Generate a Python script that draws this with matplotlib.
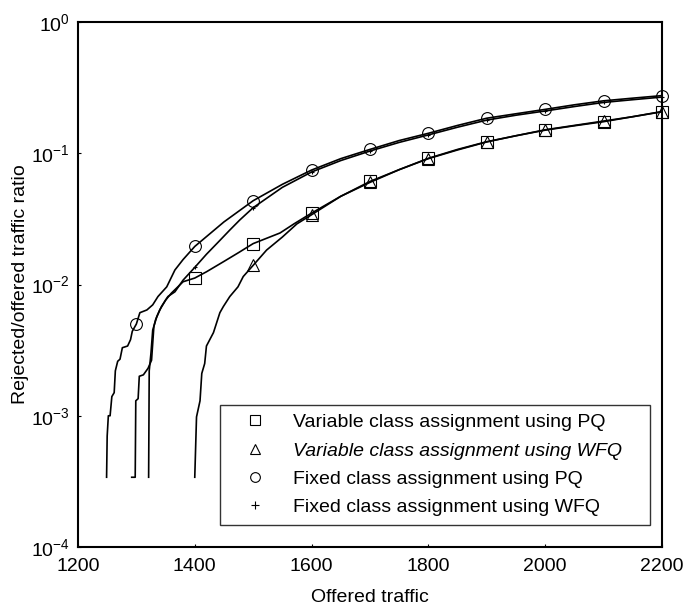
import numpy as np
import matplotlib
matplotlib.use('Agg')
import matplotlib.pyplot as plt
from matplotlib.lines import Line2D
from matplotlib.ticker import LogLocator, NullLocator

plt.rcParams['font.family'] = ['Liberation Sans', 'DejaVu Sans']
plt.rcParams['mathtext.fontset'] = 'custom'
plt.rcParams['mathtext.rm'] = 'Liberation Sans'
plt.rcParams['mathtext.default'] = 'regular'

# Fixed class assignment using PQ (circles)
fix_pq_x = [1249, 1250, 1252, 1255, 1258, 1262, 1264, 1268, 1272, 1276, 1285, 1290, 1293, 1300,
            1306, 1318, 1328, 1337, 1352, 1366, 1380, 1400, 1450, 1500, 1550, 1600, 1650, 1700,
            1750, 1800, 1850, 1900, 1950, 2000, 2050, 2100, 2150, 2200]
fix_pq_y = [3.4e-4, 7.0e-4, 1.0e-3, 1.0e-3, 1.4e-3, 1.5e-3, 2.2e-3, 2.6e-3, 2.7e-3, 3.3e-3, 3.4e-3,
            3.8e-3, 4.4e-3, 5.0e-3, 6.1e-3, 6.4e-3, 7.0e-3, 8.1e-3, 9.6e-3, 0.0129, 0.0155, 0.0195,
            0.030, 0.0435, 0.058, 0.0745, 0.091, 0.107, 0.125, 0.142, 0.163, 0.185, 0.200, 0.216,
            0.234, 0.251, 0.263, 0.275]

# Variable class assignment using PQ (squares)
var_pq_x = [1292, 1298, 1299, 1303, 1305, 1312, 1320, 1326, 1330, 1333, 1340, 1350, 1360, 1380,
            1400, 1420, 1450, 1475, 1500, 1546, 1570, 1600, 1650, 1700, 1750, 1800, 1850, 1900,
            1950, 2000, 2050, 2100, 2150, 2200]
var_pq_y = [3.4e-4, 3.4e-4, 1.3e-3, 1.35e-3, 2.0e-3, 2.05e-3, 2.3e-3, 2.65e-3, 4.8e-3, 5.4e-3,
            6.4e-3, 7.6e-3, 8.6e-3, 0.0105, 0.0112, 0.0125, 0.015, 0.0175, 0.0205, 0.0247, 0.029,
            0.035, 0.047, 0.061, 0.075, 0.0915, 0.107, 0.1225, 0.136, 0.150, 0.162, 0.174, 0.19,
            0.207]

# Fixed class assignment using WFQ (plus)
fix_wfq_x = [1321, 1322, 1325, 1328, 1335, 1343, 1354, 1366, 1380, 1400, 1420, 1440, 1460, 1477,
             1500, 1550, 1600, 1650, 1700, 1750, 1800, 1850, 1900, 1950, 2000, 2050, 2100, 2150,
             2200]
fix_wfq_y = [3.4e-4, 2.2e-3, 3.0e-3, 4.5e-3, 5.7e-3, 6.8e-3, 8.1e-3, 8.8e-3, 0.0108, 0.0135,
             0.017, 0.021, 0.026, 0.031, 0.0385, 0.055, 0.072, 0.088, 0.104, 0.121, 0.138, 0.158,
             0.179, 0.195, 0.210, 0.227, 0.244, 0.256, 0.268]

# Variable class assignment using WFQ (triangles)
var_wfq_x = [1400, 1403, 1409, 1412, 1417, 1420, 1432, 1443, 1449, 1460, 1474, 1483, 1500, 1523,
             1550, 1575, 1600, 1650, 1700, 1750, 1800, 1850, 1900, 1950, 2000, 2050, 2100, 2150,
             2200]
var_wfq_y = [3.4e-4, 9.8e-4, 1.3e-3, 2.1e-3, 2.5e-3, 3.4e-3, 4.3e-3, 6.1e-3, 6.8e-3, 8.1e-3,
             9.6e-3, 0.0115, 0.014, 0.0183, 0.023, 0.029, 0.034, 0.047, 0.060, 0.075, 0.091, 0.106,
             0.122, 0.136, 0.151, 0.163, 0.176, 0.19, 0.208]

# where the symbols sit on each curve
var_pq_marks = [1400, 1500, 1600, 1700, 1800, 1900, 2000, 2100, 2200]
var_wfq_marks = [1500, 1600, 1700, 1800, 1900, 2000, 2100, 2200]
fix_pq_marks = [1300, 1400, 1500, 1600, 1700, 1800, 1900, 2000, 2100, 2200]
fix_wfq_marks = [1400, 1500, 1600, 1700, 1800, 1900, 2000, 2100, 2200]

labels = ['Variable class assignment using PQ', 'Variable class assignment using WFQ',
          'Fixed class assignment using PQ', 'Fixed class assignment using WFQ']

fig = plt.figure(figsize=(6.87, 6.12), dpi=100)
ax = fig.add_axes([0.1135, 0.1062, 0.85, 0.8578])

series = [(var_pq_x, var_pq_y, var_pq_marks, 's'), (var_wfq_x, var_wfq_y, var_wfq_marks, '^'),
          (fix_pq_x, fix_pq_y, fix_pq_marks, 'o'), (fix_wfq_x, fix_wfq_y, fix_wfq_marks, '+')]

for xs, ys, marks, m in series:
    xs = np.array(xs)
    mask = np.isin(xs, marks)
    ax.plot(xs, ys, color='black', linewidth=1.2, marker=m, markevery=list(mask),
            markersize=8.5 if m != '+' else 3, markerfacecolor='none',
            markeredgecolor='black', markeredgewidth=0.8, clip_on=False)

ax.set_yscale('log')
ax.set_xlim(1200, 2200)
ax.set_ylim(1e-4, 1)
ax.set_xticks([1200, 1400, 1600, 1800, 2000, 2200])
ax.yaxis.set_major_locator(LogLocator(base=10, numticks=10))
ax.yaxis.set_minor_locator(NullLocator())
ax.tick_params(direction='in', length=2, labelsize=14)
ax.tick_params(axis='x', pad=8)
ax.tick_params(axis='y', pad=6)
for sp in ax.spines.values():
    sp.set_linewidth(1.5)

ax.set_xlabel('Offered traffic', fontsize=14, labelpad=10)
ax.set_ylabel('Rejected/offered traffic ratio', fontsize=14, labelpad=1)

handles = [Line2D([], [], linestyle='none', marker=m, markersize=7 if m != '+' else 6,
                  markerfacecolor='none', markeredgecolor='black', markeredgewidth=0.8)
           for _, _, _, m in series]
leg = ax.legend(handles, labels, loc='lower left', bbox_to_anchor=(0.243, 0.042, 0.736, 0.225),
                mode='expand', borderaxespad=0, fontsize=14, frameon=True, fancybox=False,
                handlelength=2.7, handletextpad=0.6, labelspacing=0.55, borderpad=0.45)
leg.get_frame().set_edgecolor('black')
leg.get_frame().set_linewidth(1.0)
leg.get_texts()[1].set_style('italic')

fig.savefig('out.png', dpi=100)
